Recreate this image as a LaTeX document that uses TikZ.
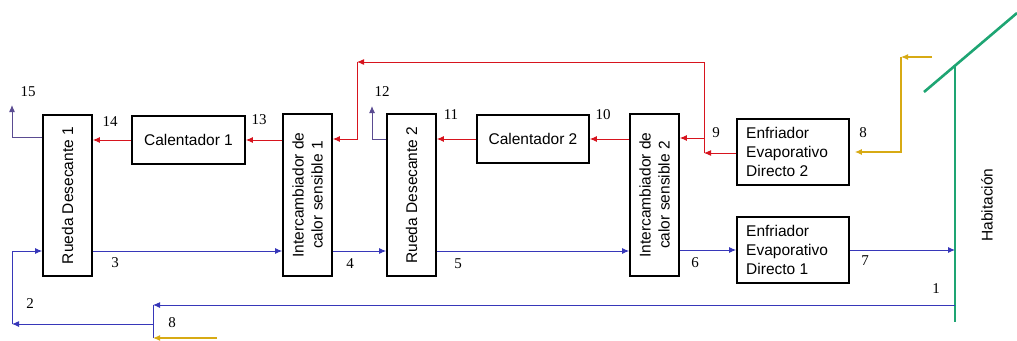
\documentclass[tikz,border=0pt]{standalone}
\usepackage{fontspec}
\setmainfont{Liberation Sans}
\newfontfamily\numfont{Liberation Serif}
\usetikzlibrary{arrows.meta}
\definecolor{cred}{RGB}{215,20,30}
\definecolor{cblue}{RGB}{55,55,185}
\definecolor{cpurp}{RGB}{90,75,145}
\definecolor{cyell}{RGB}{215,170,20}
\definecolor{cgreen}{RGB}{30,165,115}
\tikzset{
  blk/.style={draw=black, line width=1.6pt, fill=white, inner sep=0pt},
  txt/.style={font=\fontsize{15.5}{19}\selectfont, inner sep=0pt, align=center},
  num/.style={font=\numfont\fontsize{15}{15}\selectfont, inner sep=0pt},
  tip/.style={-{Latex[length=7pt,width=6pt]}},
  redarrow/.style={draw=cred, line width=1pt, tip},
  bluearrow/.style={draw=cblue, line width=1pt, tip},
  blueline/.style={draw=cblue, line width=1pt},
  purparrow/.style={draw=cpurp, line width=1pt, tip},
  yelarrow/.style={draw=cyell, line width=1.2pt, tip},
  wall/.style={draw=cgreen, line width=2.6pt}
}
\begin{document}
\begin{tikzpicture}[x=1pt,y=-1pt]
\useasboundingbox (0,0) rectangle (1017,340);
% boxes
\node[blk, minimum width=49pt, minimum height=161pt] (rd1) at (67.5,195.5) {};
\node[txt, rotate=90] (rd1t) at (rd1) {Rueda Desecante 1};
\node[blk, minimum width=113pt, minimum height=48pt] (cal1) at (188.5,140) {};
\node[txt] (cal1t) at (cal1) {Calentador 1};
\node[blk, minimum width=49pt, minimum height=162pt] (ic1) at (307.5,195) {};
\node[txt, rotate=90] (ic1t) at (ic1) {Intercambiador de\\calor sensible 1};
\node[blk, minimum width=49pt, minimum height=162pt] (rd2) at (411.5,195) {};
\node[txt, rotate=90] (rd2t) at (rd2) {Rueda Desecante 2};
\node[blk, minimum width=112pt, minimum height=48pt] (cal2) at (533,139) {};
\node[txt] (cal2t) at (cal2) {Calentador 2};
\node[blk, minimum width=49pt, minimum height=162pt] (ic2) at (654.5,195) {};
\node[txt, rotate=90] (ic2t) at (ic2) {Intercambiador de\\calor sensible 2};
\node[blk, minimum width=112pt, minimum height=66pt] (enf2) at (793,152) {};
\node[txt, align=left, anchor=west] (enf2t) at (746,152) {Enfriador\\Evaporativo\\Directo 2};
\node[blk, minimum width=112pt, minimum height=66pt] (enf1) at (793,250) {};
\node[txt, align=left, anchor=west] (enf1t) at (746,250) {Enfriador\\Evaporativo\\Directo 1};
\node[txt, rotate=90] (hab) at (987,205) {Habitación};
% wall
\coordinate (wtop) at (955,66);
\coordinate (wbot) at (955,322);
\coordinate (rf1) at (924,92);
\coordinate (rf2) at (1017,13);
\draw[wall] (wtop) -- (wbot);
\draw[wall] (rf1) -- (rf2);
% helper coordinates
\coordinate (yb) at (0,251);
\coordinate (r9a) at (704,138);
\coordinate (r9b) at (704,153);
\coordinate (rt1) at (704,62);
\coordinate (rt2) at (357,62);
\coordinate (r13) at (357,139);
\coordinate (p12a) at (372,139);
\coordinate (p12b) at (372,106);
\coordinate (p15a) at (12,137);
\coordinate (p15b) at (12,105);
\coordinate (w7) at (955,250);
\coordinate (w1) at (955,305);
\coordinate (b1) at (153,305);
\coordinate (b8) at (153,338);
\coordinate (b2s) at (153,324);
\coordinate (b2e) at (12,324);
\coordinate (b2t) at (12,251);
\coordinate (yt0) at (932,57);
\coordinate (yt1) at (901,57);
\coordinate (y8) at (901,152);
\coordinate (yb0) at (217,338);
% red
\draw[redarrow] (enf2.west |- r9b) -- (r9b);
\draw[redarrow] (r9b) -- (rt1) -- (rt2);
\draw[redarrow] (r9a) -- (ic2.east |- r9a);
\draw[redarrow] (rt2) -- (r13) -- (ic1.east |- r13);
\draw[redarrow] (ic2.west |- cal2.east) -- (cal2.east);
\draw[redarrow] (cal2.west) -- (rd2.east |- cal2.west);
\draw[redarrow] (ic1.west |- cal1.east) -- (cal1.east);
\draw[redarrow] (cal1.west) -- (rd1.east |- cal1.west);
% purple exhausts
\draw[purparrow] (rd2.west |- p12a) -- (p12a) -- (p12b);
\draw[purparrow] (rd1.west |- p15a) -- (p15a) -- (p15b);
% blue supply
\draw[bluearrow] (rd1.east |- yb) -- (ic1.west |- yb);
\draw[bluearrow] (ic1.east |- yb) -- (rd2.west |- yb);
\draw[bluearrow] (rd2.east |- yb) -- (ic2.west |- yb);
\draw[bluearrow] (ic2.east |- enf1.west) -- (enf1.west);
\draw[bluearrow] (enf1.east) -- (w7);
\draw[bluearrow] (w1) -- (b1);
\draw[blueline] (b1) -- (b8);
\draw[bluearrow] (b2s) -- (b2e);
\draw[bluearrow] (b2e) -- (b2t) -- (rd1.west |- b2t);
% yellow
\draw[yelarrow] (yt0) -- (yt1);
\draw[yelarrow, shorten >=5pt] (yt1) -- (y8) -- (enf2.east |- y8);
\draw[yelarrow] (yb0) -- (b8);
% numbers
\node[num] (n15) at (28,92) {15};
\node[num] (n14) at (110,122) {14};
\node[num] (n13) at (259,120) {13};
\node[num] (n12) at (382,92) {12};
\node[num] (n11) at (451,115) {11};
\node[num] (n10) at (603,115) {10};
\node[num] (n9) at (716,133) {9};
\node[num] (n8a) at (863,133) {8};
\node[num] (n3) at (115,263) {3};
\node[num] (n4) at (350,264) {4};
\node[num] (n5) at (458,264) {5};
\node[num] (n6) at (695,263) {6};
\node[num] (n7) at (865,261) {7};
\node[num] (n1) at (936,289) {1};
\node[num] (n2) at (30,304) {2};
\node[num] (n8b) at (172,323) {8};
\end{tikzpicture}
\end{document}
